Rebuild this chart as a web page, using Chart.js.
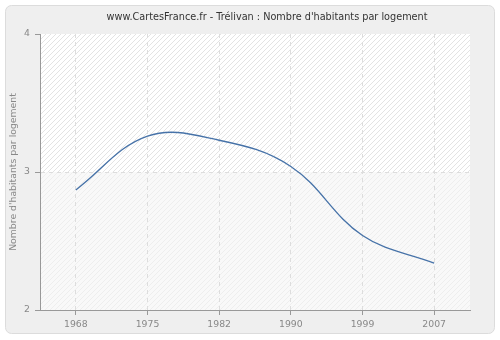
<!DOCTYPE html>
<html>
<head>
<meta charset="utf-8">
<script src="https://cdn.jsdelivr.net/npm/chart.js@4.4.0/dist/chart.umd.min.js"></script>
<style>
  html, body { margin: 0; padding: 0; background: #ffffff; }
  #wrap { width: 500px; height: 340px; }
</style>
</head>
<body>
<div id="wrap"><canvas id="chart" width="500" height="340"></canvas></div>
<script>
// census years and people per dwelling
const years = ['1968', '1975', '1982', '1990', '1999', '2007']
const habitantsParLogement = [2.87, 3.26, 3.23, 3.04, 2.54, 2.34]
const yTicks = [2, 3, 4]

const titleText = "www.CartesFrance.fr - Trélivan : Nombre d'habitants par logement"
const yTitle = "Nombre d'habitants par logement"
const fontName = 'DejaVu Sans'

// points are placed by index so the years sit evenly spaced
const points = habitantsParLogement.map((v, i) => ({ x: i, y: v }))

// diagonal hatch used for the plot background
function makeHatch(bg, line){
    let c = document.createElement('canvas')
    c.width = 5
    c.height = 5
    let g = c.getContext('2d')
    g.fillStyle = bg
    g.fillRect(0, 0, 5, 5)
    g.strokeStyle = line
    g.lineWidth = 1
    g.beginPath()
    g.moveTo(0, 5); g.lineTo(5, 0)
    g.moveTo(-1, 1); g.lineTo(1, -1)
    g.moveTo(4, 6); g.lineTo(6, 4)
    g.stroke()
    return c
}

const backdrop = {
    id: 'backdrop',
    beforeDraw(chart){
        const ctx = chart.ctx
        const a = chart.chartArea
        const y = chart.scales.y
        ctx.save()
        // outer panel
        ctx.fillStyle = '#ffffff'
        ctx.fillRect(0, 0, chart.width, chart.height)
        ctx.fillStyle = '#efefef'
        ctx.strokeStyle = '#dcdcdc'
        ctx.lineWidth = 1
        ctx.beginPath()
        ctx.roundRect(5.5, 5.5, 489, 328, 6)
        ctx.fill()
        ctx.stroke()
        // plot area, two bands split at 3
        const mid = y.getPixelForValue(3)
        ctx.fillStyle = ctx.createPattern(makeHatch('#ffffff', '#e3e3e3'), 'repeat')
        ctx.fillRect(a.left, a.top, a.right - a.left, mid - a.top)
        ctx.fillStyle = ctx.createPattern(makeHatch('#f9f9f9', '#eeeeee'), 'repeat')
        ctx.fillRect(a.left, mid, a.right - a.left, a.bottom - mid)
        // title
        ctx.fillStyle = '#333333'
        ctx.font = '9.7px "' + fontName + '"'
        ctx.textAlign = 'center'
        ctx.textBaseline = 'middle'
        ctx.fillText(titleText, 267, 17)
        // y axis title
        ctx.translate(14, (a.top + a.bottom) / 2)
        ctx.rotate(-Math.PI / 2)
        ctx.fillStyle = '#888888'
        ctx.font = '9.3px "' + fontName + '"'
        ctx.fillText(yTitle, 0, 0)
        ctx.restore()
    }
}

const ctx = document.getElementById('chart').getContext('2d')
new Chart(ctx, {
    type: 'line',
    data: {
        datasets: [{
            data: points,
            borderColor: '#4672a8',
            borderWidth: 1.3,
            pointRadius: 0,
            fill: false,
            tension: 0.38
        }]
    },
    options: {
        responsive: false,
        animation: false,
        layout: { padding: { top: 34, right: 30, left: 0, bottom: 0 } },
        plugins: {
            legend: { display: false },
            title: { display: false },
            tooltip: { enabled: false }
        },
        scales: {
            x: {
                type: 'linear',
                min: -0.5,
                max: 5.5,
                afterBuildTicks: s => { s.ticks = years.map((_, i) => ({ value: i })) },
                afterFit: s => { s.height = 30 },
                ticks: {
                    callback: (v) => years[v],
                    color: '#888888',
                    font: { family: fontName, size: 9.3 },
                    padding: 4,
                    maxRotation: 0
                },
                grid: {
                    color: '#dddddd',
                    tickColor: '#999999',
                    tickLength: 5,
                    drawOnChartArea: true
                },
                border: { color: '#999999', dash: [4, 4], display: true }
            },
            y: {
                min: 2,
                max: 4,
                afterBuildTicks: s => { s.ticks = yTicks.map(v => ({ value: v })) },
                afterFit: s => { s.width = 40 },
                ticks: {
                    color: '#888888',
                    font: { family: fontName, size: 9.3 },
                    padding: 5
                },
                grid: {
                    color: c => c.tick && c.tick.value === 3 ? '#dddddd' : 'rgba(0,0,0,0)',
                    tickColor: '#999999',
                    tickLength: 5
                },
                border: { color: '#999999', dash: [4, 4] }
            }
        }
    },
    plugins: [backdrop]
})
</script>
</body>
</html>
